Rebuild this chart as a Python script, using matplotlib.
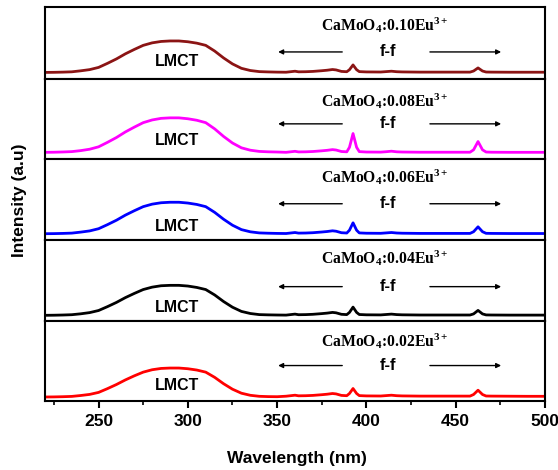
import matplotlib
matplotlib.use('Agg')
import matplotlib.pyplot as plt
from matplotlib.ticker import MultipleLocator

plt.rcParams['mathtext.fontset'] = 'custom'
plt.rcParams['mathtext.rm'] = 'Liberation Serif:bold'
plt.rcParams['mathtext.it'] = 'Liberation Serif:bold'
plt.rcParams['mathtext.bf'] = 'Liberation Serif:bold'

# wavelength grid (nm)
wl = [220, 225, 230, 235, 240, 245, 250, 255, 260, 265, 270, 275, 280, 285, 290,
      295, 300, 305, 310, 315, 320, 325, 330, 335, 340, 345, 350,
      355, 358, 360, 362, 366, 370, 375, 378, 381, 383, 386, 389, 390.5, 392.5,
      394.5, 396, 400, 408, 411, 414, 417, 420, 430, 440, 450, 458, 460, 462.5,
      465, 467, 470, 480, 490, 500]

# excitation intensities (a.u.), top panel first
eu010 = [6.5, 6.6, 6.8, 7.1, 8.1, 9.3, 11.5, 15.6, 20, 25.1, 29.5, 33.6, 36.1, 37.5, 38,
         38, 37.2, 35.8, 33.6, 27.9, 21, 15, 10.6, 8.4, 7.3, 7, 6.8,
         6.7, 7.3, 7.7, 7.1, 7.2, 7.5, 8.2, 8.7, 9.4, 9, 7.5, 7.2, 9.2, 14,
         9.2, 7.3, 7, 6.9, 7.3, 7.7, 7.2, 7, 6.8, 6.8, 6.8, 6.8, 7.9, 11,
         7.9, 6.9, 6.8, 6.7, 6.7, 6.7]
eu008 = [6.5, 6.6, 6.85, 7.2, 8.2, 9.6, 12, 16.5, 21.3, 26.9, 31.7, 36.2, 38.9, 40.5, 41,
         41, 40.1, 38.6, 36.2, 30, 22.4, 15.8, 11, 8.6, 7.4, 7, 6.8,
         6.5, 7.1, 7.5, 6.9, 7, 7.3, 8, 8.5, 9.2, 8.8, 7.3, 7, 11.5, 25.3,
         11.5, 7.2, 6.8, 6.7, 7.1, 7.6, 7, 6.8, 6.6, 6.6, 6.6, 6.6, 9, 17.3,
         9, 6.8, 6.6, 6.5, 6.5, 6.5]
eu006 = [6, 6.1, 6.3, 6.6, 7.6, 8.8, 11, 15.1, 19.5, 24.6, 29, 33.1, 35.6, 37, 37.5,
         37.5, 36.7, 35.3, 33.1, 27.4, 20.5, 14.5, 10.1, 7.9, 6.8, 6.5, 6.3,
         6.2, 6.8, 7.2, 6.6, 6.7, 7, 7.7, 8.2, 8.9, 8.5, 7, 6.7, 9.5, 16.9,
         9.5, 6.8, 6.5, 6.4, 6.8, 7.2, 6.7, 6.5, 6.3, 6.3, 6.3, 6.3, 8, 12.9,
         8, 6.4, 6.3, 6.2, 6.2, 6.2]
eu004 = [5.3, 5.4, 5.6, 5.9, 6.8, 8, 10.1, 14, 18.2, 23, 27.2, 31.1, 33.5, 34.9, 35.3,
         35.3, 34.6, 33.2, 31.1, 25.7, 19.1, 13.4, 9.2, 7.1, 6, 5.75, 5.6,
         5.5, 6.1, 6.5, 5.9, 6, 6.3, 7, 7.5, 8.2, 7.8, 6.3, 6, 8.2, 13.5,
         8.2, 6.1, 5.8, 5.7, 6.1, 6.5, 6, 5.8, 5.6, 5.6, 5.6, 5.6, 6.7, 10.2,
         6.7, 5.7, 5.6, 5.5, 5.5, 5.5]
eu002 = [3.5, 3.6, 3.8, 4.1, 5, 6.1, 8.1, 11.9, 16, 20.6, 24.7, 28.4, 30.8, 32.1, 32.5,
         32.5, 31.8, 30.5, 28.4, 23.2, 16.8, 11.3, 7.3, 5.2, 4.2, 3.9, 3.8,
         4.3, 4.9, 5.3, 4.7, 4.8, 5.1, 5.8, 6.3, 7, 6.6, 5.1, 4.8, 7, 12,
         7, 4.9, 4.6, 4.5, 4.9, 5.3, 4.8, 4.6, 4.4, 4.4, 4.4, 4.4, 6, 10.3,
         6, 4.5, 4.4, 4.3, 4.2, 4.2]

series = [eu010, eu008, eu006, eu004, eu002]
labels = ['0.10', '0.08', '0.06', '0.04', '0.02']
colors = ['#8b1414', '#ff00ff', '#0000ff', '#000000', '#ff0000']
heights = [72, 80, 81, 81, 80]

fig = plt.figure(figsize=(5.58, 4.70), dpi=100)
gs = fig.add_gridspec(5, 1, height_ratios=heights, hspace=0,
                      left=45/558, right=545/558, top=1-7/470, bottom=1-400.5/470)

# text offsets from panel top (px)
lab_off = [18, 22, 18, 18, 21]
ff_off = [45, 45, 45, 47, 45]
lm_off = [55, 62, 68, 68, 65]

for i in range(5):
    ax = fig.add_subplot(gs[i])
    h = heights[i]
    ax.plot(wl, series[i], color=colors[i], lw=2)
    ax.set_xlim(220, 500)
    ax.set_ylim(0, h)
    ax.set_yticks([])
    for s in ax.spines.values():
        s.set_linewidth(1.5)
    ax.text(410, h - lab_off[i], 'CaMoO$_4$:' + labels[i] + 'Eu$^{3+}$',
            ha='center', va='center', fontsize=11.3, fontweight='bold',
            family='Liberation Serif')
    ax.text(412, h - ff_off[i], 'f-f', ha='center', va='center', fontsize=12,
            fontweight='bold', family='Liberation Sans')
    ax.text(294, h - lm_off[i], 'LMCT', ha='center', va='center', fontsize=11.5,
            fontweight='bold', family='Liberation Sans')
    ya = h - ff_off[i]
    ax.annotate('', xy=(349, ya), xytext=(388, ya),
                arrowprops=dict(arrowstyle='-|>', lw=1, color='black', mutation_scale=7))
    ax.annotate('', xy=(477, ya), xytext=(434, ya),
                arrowprops=dict(arrowstyle='-|>', lw=1, color='black', mutation_scale=7))
    if i < 4:
        ax.set_xticks([])
    else:
        ax.xaxis.set_major_locator(MultipleLocator(50))
        ax.xaxis.set_minor_locator(MultipleLocator(25))
        ax.tick_params(axis='x', which='major', direction='out', length=5, width=1.5, pad=5)
        ax.tick_params(axis='x', which='minor', direction='out', length=3, width=1.2)
        for t in ax.get_xticklabels():
            t.set_fontweight('bold')
            t.set_fontsize(12.5)
            t.set_family('Liberation Sans')

fig.text(20/558, 1-200/470, 'Intensity (a.u)', rotation=90, ha='center', va='center',
         fontsize=12.5, fontweight='bold', family='Liberation Sans')
fig.text(297/558, 1-458/470, 'Wavelength (nm)', ha='center', va='center',
         fontsize=12.5, fontweight='bold', family='Liberation Sans')

fig.savefig('out.png', dpi=100)
